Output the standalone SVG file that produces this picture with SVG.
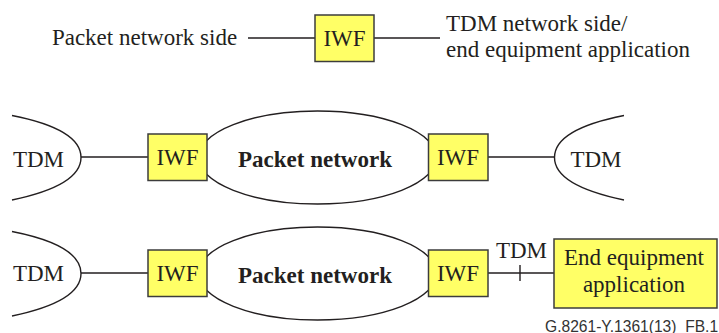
<svg xmlns="http://www.w3.org/2000/svg" width="719" height="333" viewBox="0 0 719 333">
<style>
text{font-family:"Liberation Serif",serif;font-size:23px;fill:#231f20;text-anchor:middle}
.b{font-weight:bold}
.box{fill:#ffff66;stroke:#3c3c3c;stroke-width:1.5}
.l{fill:none;stroke:#231f20;stroke-width:1.4}
.s{font-family:"Liberation Sans",sans-serif;font-size:15.6px;text-anchor:start;fill:#333}
</style>
<rect width="719" height="333" fill="#fff"/>
<g id="connectors">
<path class="l" d="M248 38H315M374 38H440"/>
<path class="l" d="M81 157H148M488 157H555"/>
<path class="l" d="M81 273H148M488 273H554M520 265V281"/>
</g>
<g id="tdm-1"><path class="l" d="M12 115.500C55 124 81 137 81 157.500C81 178 55 191 12 200"/><text x="38.500" y="167">TDM</text></g>
<g id="tdm-2"><path class="l" d="M624 115.500C581 124 554.500 137 554.500 157.500C554.500 178 581 191 624 200"/><text x="596" y="167">TDM</text></g>
<g id="tdm-3"><path class="l" d="M12 231.500C55 240 81 253 81 273.500C81 294 55 307 12 316"/><text x="38.500" y="281">TDM</text></g>
<g id="net-1"><ellipse class="l" cx="317.500" cy="157.500" rx="119" ry="46.500"/><text class="b" x="315" y="167">Packet network</text></g>
<g id="net-2"><ellipse class="l" cx="317.500" cy="273.500" rx="119" ry="46.500"/><text class="b" x="315" y="283">Packet network</text></g>
<g id="iwf-top"><rect class="box" x="315" y="15" width="59" height="46.500"/><text x="344.500" y="46">IWF</text></g>
<g id="iwf-1"><rect class="box" x="148" y="134" width="59" height="46.500"/><text x="177.500" y="165">IWF</text></g>
<g id="iwf-2"><rect class="box" x="428.500" y="134" width="59.500" height="46.500"/><text x="458" y="165">IWF</text></g>
<g id="iwf-3"><rect class="box" x="148" y="250" width="59" height="46.500"/><text x="177.500" y="281">IWF</text></g>
<g id="iwf-4"><rect class="box" x="428.500" y="250" width="59.500" height="46.500"/><text x="458" y="281">IWF</text></g>
<g id="end"><rect class="box" x="554" y="239" width="163" height="69"/><text x="634" y="265">End equipment</text><text x="634" y="292">application</text></g>
<g id="labels">
<text x="144.500" y="45">Packet network side</text>
<text x="446" y="31" style="text-anchor:start">TDM network side/</text>
<text x="446" y="57" style="text-anchor:start">end equipment application</text>
<text x="521.500" y="258">TDM</text>
<text class="s" x="545" y="331.500">G.8261-Y.1361(13)_FB.1</text>
</g>
</svg>
